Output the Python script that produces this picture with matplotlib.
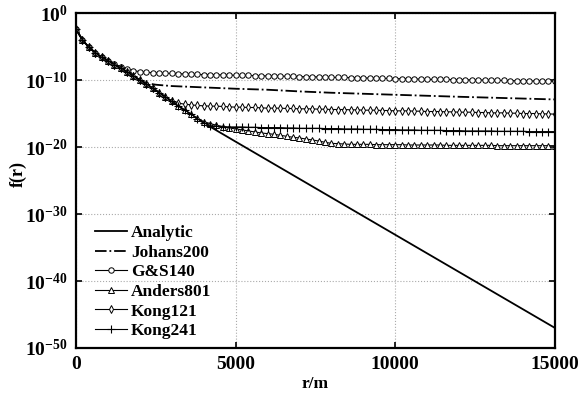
import matplotlib
matplotlib.use("Agg")
import matplotlib.pyplot as plt
from matplotlib.ticker import FixedLocator, FuncFormatter, NullLocator
import numpy as np

plt.rcParams['font.family'] = 'Liberation Serif'
plt.rcParams['font.weight'] = 'bold'
plt.rcParams['mathtext.fontset'] = 'custom'
plt.rcParams['mathtext.rm'] = 'Liberation Serif:bold'
plt.rcParams['mathtext.bf'] = 'Liberation Serif:bold'

# log10 of f(r)
r_dense = np.arange(0, 15001, 200)

r_analytic = [0, 200, 400, 600, 800, 1000, 1500, 2000, 2500, 3000, 3500, 4000, 5000, 15000]
exp_analytic = [-2.4, -4.0, -5.1, -5.9, -6.6, -7.1, -8.5, -10.0, -11.5, -13.2, -14.8, -16.4,
                -19.2, -47.0]

r_johans = [0, 200, 400, 600, 800, 1000, 1500, 2000, 2250, 2500, 3000, 4000, 5000, 6000,
            7000, 8000, 10000, 12000, 15000]
exp_johans = [-2.4, -4.0, -5.1, -5.9, -6.6, -7.1, -8.5, -10.0, -10.5, -10.7, -10.9, -11.1,
              -11.3, -11.45, -11.7, -11.9, -12.2, -12.5, -12.9]

exp_gs = [-2.4, -4.0, -5.1, -5.9, -6.6, -7.1, -7.6, -8.0, -8.35, -8.6, -8.75, -8.85, -8.9,
          -8.95, -9.0, -9.0, -9.05, -9.1, -9.1, -9.15, -9.2,
          -9.2, -9.2, -9.25, -9.25, -9.3,
          -9.3, -9.3, -9.35, -9.35, -9.4,
          -9.4, -9.4, -9.45, -9.45, -9.5,
          -9.5, -9.5, -9.55, -9.55, -9.6,
          -9.6, -9.6, -9.65, -9.65, -9.7,
          -9.7, -9.7, -9.75, -9.75, -9.8,
          -9.8, -9.8, -9.85, -9.85, -9.9,
          -9.9, -9.9, -9.9, -9.95, -9.95,
          -9.95, -10.0, -10.0, -10.0, -10.05,
          -10.05, -10.05, -10.1, -10.1, -10.1,
          -10.15, -10.15, -10.15, -10.2, -10.2]

exp_anders = [-2.4, -4.0, -5.1, -5.9, -6.6, -7.1, -7.7, -8.2, -8.8, -9.4, -10.0, -10.6,
              -11.2, -11.9, -12.5, -13.2, -13.9, -14.5, -15.1, -15.7, -16.2,
              -16.5, -16.75, -16.95, -17.15, -17.3,
              -17.45, -17.6, -17.75, -17.9, -18.0,
              -18.1, -18.25, -18.4, -18.55, -18.65,
              -18.8, -18.95, -19.1, -19.3, -19.45,
              -19.5, -19.55, -19.6, -19.6, -19.6,
              -19.6, -19.65, -19.65, -19.65, -19.65,
              -19.65, -19.7, -19.7, -19.7, -19.7,
              -19.7, -19.7, -19.75, -19.75, -19.75,
              -19.75, -19.75, -19.75, -19.75, -19.75,
              -19.8, -19.8, -19.8, -19.8, -19.8,
              -19.8, -19.8, -19.8, -19.8, -19.8]

exp_kong121 = [-2.4, -4.0, -5.1, -5.9, -6.6, -7.1, -7.7, -8.2, -8.8, -9.4, -10.0, -10.6,
               -11.2, -11.9, -12.5, -13.1, -13.45, -13.6, -13.7, -13.8, -13.85,
               -13.9, -13.9, -13.95, -14.0, -14.05,
               -14.05, -14.1, -14.1, -14.15, -14.2,
               -14.2, -14.2, -14.25, -14.25, -14.3,
               -14.3, -14.3, -14.35, -14.35, -14.4,
               -14.4, -14.4, -14.45, -14.45, -14.5,
               -14.5, -14.5, -14.55, -14.55, -14.6,
               -14.6, -14.6, -14.65, -14.65, -14.7,
               -14.7, -14.7, -14.75, -14.75, -14.8,
               -14.8, -14.8, -14.85, -14.85, -14.9,
               -14.9, -14.9, -14.95, -14.95, -15.0,
               -15.0, -15.0, -15.05, -15.05, -15.1]

exp_kong241 = [-2.4, -4.0, -5.1, -5.9, -6.6, -7.1, -7.7, -8.2, -8.8, -9.4, -10.0, -10.6,
               -11.2, -11.9, -12.5, -13.2, -13.9, -14.5, -15.1, -15.8, -16.4,
               -16.8, -16.9, -16.95, -17.0, -17.0,
               -17.0, -17.05, -17.05, -17.1, -17.1,
               -17.1, -17.1, -17.15, -17.15, -17.2,
               -17.2, -17.2, -17.2, -17.25, -17.25,
               -17.25, -17.3, -17.3, -17.3, -17.35,
               -17.35, -17.35, -17.4, -17.4, -17.4,
               -17.45, -17.45, -17.45, -17.5, -17.5,
               -17.5, -17.5, -17.55, -17.55, -17.55,
               -17.6, -17.6, -17.6, -17.6, -17.6,
               -17.65, -17.65, -17.65, -17.65, -17.65,
               -17.7, -17.7, -17.7, -17.7, -17.7]

fig = plt.figure(figsize=(5.78, 3.95), dpi=100)
ax = fig.add_axes([0.1315, 0.119, 0.8285, 0.848])

mk = dict(markersize=3.9, markerfacecolor='white', markeredgecolor='black',
          markeredgewidth=0.7, color='black', lw=0.8)

ax.plot(r_analytic, 10.0 ** np.array(exp_analytic), color='black', lw=1.3, label='Analytic')
ax.plot(r_johans, 10.0 ** np.array(exp_johans), color='black', lw=1.3, ls='-.', label='Johans200')
ax.plot(r_dense, 10.0 ** np.array(exp_gs), marker='o', label='G&S140', **mk)
ax.plot(r_dense, 10.0 ** np.array(exp_anders), marker='^', label='Anders801', **mk)
ax.plot(r_dense, 10.0 ** np.array(exp_kong121), marker='d', label='Kong121', **mk)
ax.plot(r_dense, 10.0 ** np.array(exp_kong241), marker='+', label='Kong241',
        color='black', lw=0.8, markersize=6, markeredgewidth=0.8)

ax.set_yscale('log')
ax.set_xlim(0, 15000)
ax.set_ylim(1e-50, 1)
ax.yaxis.set_major_locator(FixedLocator(10.0 ** np.arange(-50, 1, 10)))
ax.yaxis.set_minor_locator(NullLocator())
ax.yaxis.set_major_formatter(FuncFormatter(lambda v, p: r'$\mathbf{10^{%d}}$' % round(np.log10(v))))
ax.set_xticks([0, 5000, 10000, 15000])

ax.grid(True, color='#aaaaaa', ls=':', lw=0.8)
for s in ax.spines.values():
    s.set_linewidth(1.6)
ax.tick_params(direction='in', top=True, right=True, length=4, width=1.2,
               labelsize=14, pad=6)

ax.set_xlabel('r/m', fontsize=12.5, fontweight='bold', labelpad=2)
ax.set_ylabel('f(r)', fontsize=13, fontweight='bold')
ax.yaxis.set_label_coords(-0.103, 0.52)

ax.legend(loc='lower left', bbox_to_anchor=(0.015, -0.01), frameon=False, fontsize=12.5,
          handlelength=1.8, handletextpad=0.25, labelspacing=0.2, borderaxespad=0.3)

fig.savefig('out.png', dpi=100)
